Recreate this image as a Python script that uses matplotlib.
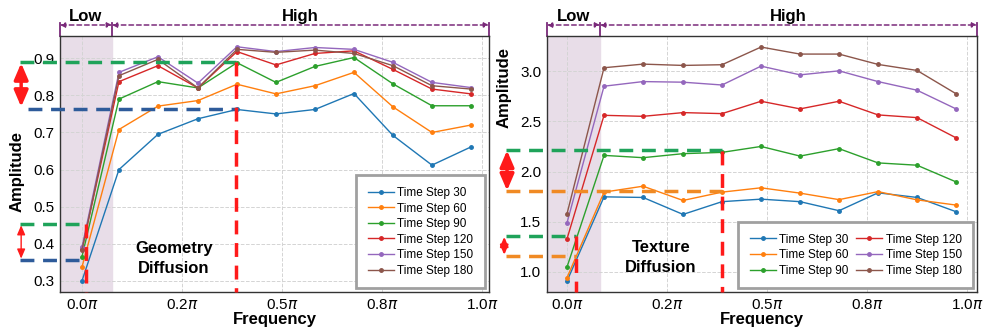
import numpy as np
import matplotlib
matplotlib.use('Agg')
import matplotlib.pyplot as plt

plt.rcParams['font.family'] = ['Liberation Sans', 'DejaVu Sans']

# frequency positions (in units of pi)
freq = [0.0, 0.0925, 0.19, 0.29, 0.3875, 0.485, 0.5825, 0.68, 0.7775, 0.875, 0.9725]
tick_pos = [0.0, 0.25, 0.5, 0.75, 1.0]
tick_labels = [r'0.0$\pi$', r'0.2$\pi$', r'0.5$\pi$', r'0.8$\pi$', r'1.0$\pi$']
steps = ['Time Step 30', 'Time Step 60', 'Time Step 90',
         'Time Step 120', 'Time Step 150', 'Time Step 180']

geo_30 = [0.30, 0.60, 0.695, 0.737, 0.762, 0.750, 0.762, 0.805, 0.692, 0.612, 0.661]
geo_60 = [0.337, 0.708, 0.771, 0.786, 0.830, 0.804, 0.826, 0.862, 0.769, 0.700, 0.720]
geo_90 = [0.365, 0.790, 0.837, 0.820, 0.888, 0.835, 0.878, 0.902, 0.831, 0.772, 0.772]
geo_120 = [0.385, 0.837, 0.880, 0.820, 0.918, 0.882, 0.913, 0.920, 0.870, 0.817, 0.804]
geo_150 = [0.390, 0.862, 0.904, 0.833, 0.931, 0.918, 0.929, 0.924, 0.889, 0.835, 0.821]
geo_180 = [0.383, 0.853, 0.897, 0.820, 0.924, 0.916, 0.922, 0.913, 0.880, 0.826, 0.817]

tex_30 = [0.91, 1.748, 1.742, 1.573, 1.700, 1.725, 1.700, 1.610, 1.788, 1.742, 1.600]
tex_60 = [0.944, 1.795, 1.854, 1.712, 1.795, 1.838, 1.785, 1.720, 1.800, 1.718, 1.666]
tex_90 = [1.05, 2.161, 2.138, 2.178, 2.191, 2.250, 2.154, 2.228, 2.086, 2.063, 1.897]
tex_120 = [1.33, 2.560, 2.550, 2.587, 2.577, 2.700, 2.624, 2.700, 2.564, 2.537, 2.336]
tex_150 = [1.49, 2.850, 2.896, 2.890, 2.862, 3.050, 2.963, 3.003, 2.896, 2.810, 2.624]
tex_180 = [1.58, 3.034, 3.070, 3.057, 3.064, 3.240, 3.170, 3.170, 3.067, 3.007, 2.775]

geo_series = [geo_30, geo_60, geo_90, geo_120, geo_150, geo_180]
tex_series = [tex_30, tex_60, tex_90, tex_120, tex_150, tex_180]

GREEN = '#1fa35a'
BLUE = '#2e5b9a'
ORANGE = '#f08a24'
RED = '#ff1a1a'
PURPLE = '#7a2a7a'


def setup_axes(ax, ylim, yticks, low_end, xlim, ylab_y):
    ax.axvspan(xlim[0], low_end, color='#e8dde8', zorder=0)
    ax.set_xlim(*xlim)
    ax.set_ylim(*ylim)
    ax.set_xticks(tick_pos)
    ax.set_xticklabels(tick_labels)
    ax.set_yticks(yticks)
    ax.tick_params(labelsize=11, length=0, pad=4)
    ax.grid(True, linestyle='--', color='#d4d4d4', linewidth=0.7)
    ax.set_axisbelow(True)
    for s in ax.spines.values():
        s.set_color('#333333')
        s.set_linewidth(1.0)
    ax.set_xlabel('Frequency', fontsize=12, fontweight='bold', labelpad=0)
    ax.set_ylabel('Amplitude', fontsize=12, fontweight='bold')
    ax.yaxis.set_label_coords(-0.082, ylab_y)

    # Low / High brackets above the axes
    trans = ax.get_xaxis_transform()
    for xv in [xlim[0], low_end, xlim[1]]:
        ax.plot([xv, xv], [1.0, 1.052], transform=trans, color=PURPLE,
                lw=1.3, clip_on=False)
    for a, b in [(xlim[0], low_end), (low_end, xlim[1])]:
        ax.annotate('', xy=(b, 1.043), xytext=(a, 1.043), xycoords=trans,
                    textcoords=trans,
                    arrowprops=dict(arrowstyle='<|-|>', color=PURPLE, lw=1.1,
                                    linestyle=(0, (3, 2)), mutation_scale=7,
                                    shrinkA=0, shrinkB=0))
    ax.text((xlim[0] + low_end) / 2, 1.077, 'Low', transform=trans, ha='center',
            va='center', fontsize=12, fontweight='bold')
    ax.text((low_end + xlim[1]) / 2, 1.077, 'High', transform=trans, ha='center',
            va='center', fontsize=12, fontweight='bold')


def hline(ax, x0, x1, y, color):
    ax.plot([x0, x1], [y, y], color=color, lw=2.5, linestyle=(0, (4, 2.5)),
            clip_on=False, zorder=5)


def vline(ax, x, y0, y1):
    ax.plot([x, x], [y0, y1], color=RED, lw=2.5, linestyle=(0, (4, 2.5)),
            clip_on=False, zorder=5)


def darrow(ax, x, y0, y1, lw, ms):
    ax.annotate('', xy=(x, y1), xytext=(x, y0), annotation_clip=False,
                arrowprops=dict(arrowstyle='<|-|>,head_length=0.7,head_width=0.3',
                                color=RED, lw=lw, mutation_scale=ms,
                                shrinkA=0, shrinkB=0))


def add_legend(ax, ncol):
    leg = ax.legend(loc='lower right', ncol=ncol, fontsize=8.5, frameon=True,
                    fancybox=False, edgecolor='#a0a0a0', framealpha=1,
                    borderaxespad=0.3, handlelength=2.2, handletextpad=0.3,
                    labelspacing=0.3, borderpad=1.0, columnspacing=0.6)
    leg.get_frame().set_linewidth(2)


fig = plt.figure(figsize=(9.91, 3.34), dpi=100)
ax1 = fig.add_axes([0.0605, 0.1257, 0.4329, 0.7665])
ax2 = fig.add_axes([0.552, 0.1257, 0.4339, 0.7665])

# Geometry diffusion
xl1 = (-0.055, 1.0175)
setup_axes(ax1, (0.27, 0.96), [0.3, 0.4, 0.5, 0.6, 0.7, 0.8, 0.9], 0.075, xl1, 0.47)
for vals, lab in zip(geo_series, steps):
    ax1.plot(freq, vals, marker='o', markersize=2.5, lw=1.0, label=lab)
add_legend(ax1, 1)
ax1.text(0.23, 0.36, 'Geometry\nDiffusion', ha='center', va='center',
         fontsize=12, fontweight='bold', linespacing=1.4)
hline(ax1, -0.155, 0.385, 0.889, GREEN)
hline(ax1, -0.135, 0.385, 0.763, BLUE)
vline(ax1, 0.385, 0.889, 0.27)
darrow(ax1, -0.152, 0.769, 0.887, 2.5, 14)
hline(ax1, -0.155, 0.012, 0.453, GREEN)
hline(ax1, -0.155, 0.012, 0.355, BLUE)
vline(ax1, 0.01, 0.453, 0.27)
darrow(ax1, -0.152, 0.36, 0.45, 1.0, 8)

# Texture diffusion
xl2 = (-0.05, 1.025)
setup_axes(ax2, (0.8, 3.35), [1.0, 1.5, 2.0, 2.5, 3.0], 0.0825, xl2, 0.80)
for vals, lab in zip(tex_series, steps):
    ax2.plot(freq, vals, marker='o', markersize=2.5, lw=1.0, label=lab)
add_legend(ax2, 2)
ax2.text(0.235, 1.14, 'Texture\nDiffusion', ha='center', va='center',
         fontsize=12, fontweight='bold', linespacing=1.4)
hline(ax2, -0.1525, 0.3875, 2.215, GREEN)
hline(ax2, -0.1525, 0.3875, 1.808, ORANGE)
vline(ax2, 0.3875, 2.2, 0.8)
darrow(ax2, -0.15, 1.81, 2.21, 2.5, 14)
hline(ax2, -0.1525, 0.0225, 1.361, GREEN)
hline(ax2, -0.1525, 0.0225, 1.159, ORANGE)
vline(ax2, 0.0225, 1.361, 0.8)
darrow(ax2, -0.157, 1.17, 1.35, 1.5, 8)

fig.savefig('out.png', dpi=100)
